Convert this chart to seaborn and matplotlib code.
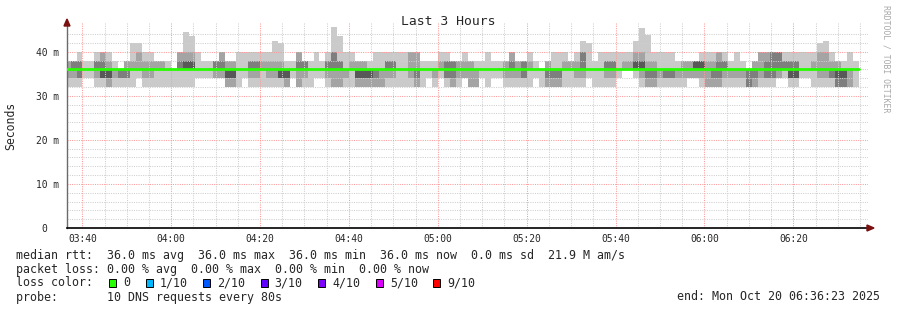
import matplotlib
matplotlib.use("Agg")
import matplotlib.pyplot as plt
import seaborn as sns
import numpy as np
import pandas as pd
from matplotlib.patches import Rectangle, Polygon

sns.set_theme(style="white")
plt.rcParams["font.family"] = ["DejaVu Sans Mono", "DejaVu Sans"]

# ---------------- data (ms, one value per 80 s step, sorted pings) ----------------
ping1 = [32,32,32,34,34,32,32,32,32,32,
         32,32,34,32,32,32,32,32,32,32,
         32,32,34,34,34,34,34,32,32,32,
         34,32,32,32,32,32,32,32,34,32,
         32,32,34,34,32,32,32,32,32,32,
         32,32,32,32,32,32,32,32,32,32,
         32,34,32,34,32,32,32,34,32,32,
         34,32,34,34,32,32,32,32,32,34,
         32,32,32,32,32,32,32,32,34,32,
         32,32,32,34,36,36,34,32,32,32,
         32,32,32,32,32,34,34,32,32,32,
         32,32,32,32,32,32,32,32,32,32,
         34,34,32,32,34,34,32,32,32,32,
         32,32,32,32]
ping2 = [34,34,34,36,36,34,34,32,34,34,
         34,36,36,34,34,36,36,36,36,36,
         36,36,36,36,36,34,34,32,32,36,
         36,34,34,36,34,34,34,32,36,32,
         34,36,36,36,34,32,32,34,36,32,
         32,32,32,32,34,34,36,36,34,32,
         36,36,34,36,34,32,34,34,32,32,
         36,36,36,36,34,34,34,34,36,36,
         36,32,32,32,36,36,34,34,36,36,
         36,34,34,36,36,36,36,34,32,32,
         34,34,34,34,34,34,34,34,32,32,
         32,34,34,34,34,32,32,34,34,34,
         34,36,34,34,36,36,36,34,34,34,
         32,32,32,36]
ping3 = [36,36,34,36,36,36,34,34,36,34,
         34,36,36,36,36,36,36,36,36,36,
         36,36,36,36,36,36,36,34,34,36,
         36,36,36,36,36,36,34,34,36,36,
         36,36,36,36,36,36,36,36,36,34,
         34,34,34,36,36,36,36,36,36,34,
         36,36,36,36,34,34,36,36,36,36,
         36,36,36,36,36,36,36,34,36,36,
         36,34,34,34,36,36,36,36,36,36,
         36,36,36,36,36,36,36,36,34,34,
         36,34,34,36,36,36,36,36,36,34,
         34,36,36,36,36,32,34,36,34,34,
         36,36,34,34,36,36,36,36,36,34,
         32,32,36,36]
ping4 = [36,36,36,36,36,36,34,34,36,36,
         36,36,36,36,36,36,36,36,36,36,
         36,36,36,36,36,36,36,34,34,36,
         36,36,36,36,36,36,34,34,36,36,
         36,36,36,36,36,36,36,36,36,34,
         34,34,36,36,36,36,36,36,36,36,
         36,36,36,36,36,36,36,36,36,36,
         36,36,36,36,36,36,36,36,36,36,
         36,36,36,36,36,36,36,36,36,36,
         36,36,36,36,36,36,36,36,36,36,
         36,36,36,36,36,36,36,36,36,36,
         36,36,36,36,36,36,36,36,36,36,
         36,36,34,34,36,36,36,36,36,36,
         34,34,36,36]
ping7 = [36,36,36,36,36,36,36,36,36,36,
         36,36,36,36,36,36,36,36,36,36,
         38,38,36,36,36,36,36,36,36,36,
         36,36,36,36,36,36,36,36,36,36,
         36,36,36,36,36,36,36,36,36,36,
         36,36,36,36,36,36,36,36,36,36,
         36,36,36,36,36,36,36,36,36,36,
         36,36,36,36,36,36,36,36,36,36,
         36,36,36,36,36,36,36,36,36,36,
         36,36,36,36,36,36,38,38,36,36,
         36,36,36,36,36,36,38,38,36,36,
         36,36,36,36,36,36,36,36,36,36,
         36,36,36,36,36,36,36,36,36,36,
         36,36,36,36]
ping8 = [36,38,38,36,36,38,38,36,36,36,
         36,36,36,36,36,36,36,36,36,38,
         38,38,36,36,36,38,38,36,36,36,
         36,38,38,36,36,36,36,36,36,38,
         38,36,36,36,38,40,38,36,36,36,
         36,36,36,36,38,38,36,36,36,36,
         36,36,36,36,38,38,36,36,36,36,
         36,36,36,36,36,38,36,38,36,36,
         36,36,36,36,36,36,36,40,36,36,
         36,38,38,36,36,36,38,38,36,36,
         36,36,36,36,36,36,38,38,36,36,
         38,38,36,36,36,36,36,36,38,40,
         40,38,38,38,36,36,36,36,36,36,
         36,36,36,36]
ping9 = [38,38,38,36,36,38,40,38,36,36,
         38,38,40,38,38,38,38,36,36,40,
         40,40,36,36,36,38,40,38,38,36,
         36,38,38,38,38,38,38,36,36,40,
         38,36,36,36,38,40,38,36,38,38,
         38,36,36,36,38,38,36,36,40,40,
         36,36,36,38,38,38,38,38,38,36,
         36,36,36,36,38,40,38,38,38,36,
         36,38,36,36,38,38,38,40,36,36,
         36,38,38,36,38,38,40,40,38,38,
         36,36,36,36,38,38,38,38,38,38,
         40,38,36,36,36,36,38,40,40,40,
         40,38,38,38,36,36,38,40,40,38,
         38,36,36,36]
ping10 = [38,38,40,38,38,40,40,40,38,36,
          38,42,42,40,40,38,38,38,36,40,
          44.5,43.5,40,38,38,38,40,38,38,40,
          40,40,40,40,40,42.5,42,38,38,40,
          38,38,40,38,40,45.5,43.5,40,40,38,
          38,38,40,40,40,40,40,40,40,40,
          38,38,38,40,40,38,38,40,38,38,
          38,40,38,38,38,40,38,38,40,38,
          36,38,40,40,40,38,40,42.5,42,38,
          40,40,40,40,40,40,42.4,45.4,43.8,40,
          40,40,40,38,38,38,38,40,40,40,
          40,40,38,40,38,36,38,40,40,40,
          40,40,40,40,40,40,40,42,42.5,40,
          38,38,40,38]
median_ms = [36.0] * len(ping1)

xtick_vals = [220, 240, 260, 280, 300, 320, 340, 360, 380]
xtick_labels = ["03:40", "04:00", "04:20", "04:40", "05:00", "05:20", "05:40", "06:00", "06:20"]
ytick_vals = [0, 10, 20, 30, 40]
ytick_labels = ["0  ", "10 m", "20 m", "30 m", "40 m"]
loss_labels = ["0", "1/10", "2/10", "3/10", "4/10", "5/10", "9/10"]
loss_colors = ["#26ff00", "#00b8ff", "#0059ff", "#5e00ff", "#7e00ff", "#dd00ff", "#ff0000"]

# ---------------- figure ----------------
N = len(ping1)
step_min = 80 / 60
W, H = 897, 310
fig = plt.figure(figsize=(W / 100, H / 100), dpi=100)
ax = fig.add_axes([67 / W, 1 - 228 / H, 801 / W, 206 / H])
x0 = 216.56
x1 = x0 + 801 / 4.444
ax.set_xlim(x0, x1)
ax.set_ylim(0, 206 / 4.4075)

col_end = 394.70
edges = col_end - step_min * (N - np.arange(N + 1))

shades = ["#cacaca", "#a4a4a4", "#7e7e7e", "#585858"]
lows = [ping1, ping2, ping3, ping4]
highs = [ping10, ping9, ping8, ping7]
for lo, hi, c in zip(lows, highs, shades):
    lo_e = np.append(lo, lo[-1])
    hi_e = np.append(hi, hi[-1])
    ax.fill_between(edges, lo_e, hi_e, step="post", color=c, lw=0, zorder=2)

# grid
for xv in np.arange(220, x1, 5):
    major = (xv - 220) % 20 == 0
    ax.axvline(xv, color="#ff9a9a" if major else "#cfcfcf", lw=0.75,
               ls=(0, (1, 1.2)), zorder=2.5)
for yv in np.arange(2, 46, 2):
    major = yv % 10 == 0
    ax.axhline(yv, color="#ff9a9a" if major else "#cfcfcf", lw=0.75,
               ls=(0, (1, 1.2)), zorder=2.5)

# median line
med_df = pd.DataFrame({"t": edges, "ms": np.append(median_ms, median_ms[-1])})
sns.lineplot(data=med_df, x="t", y="ms", drawstyle="steps-post", color="#26ff00",
             lw=2.0, ax=ax, zorder=3, estimator=None)
ax.set_xlabel("")
ax.set_ylabel("")

# axes styling
for s in ["top", "right"]:
    ax.spines[s].set_visible(False)
ax.spines["left"].set_color("#6a6a6a")
ax.spines["left"].set_linewidth(1.0)
ax.spines["bottom"].set_color("black")
ax.spines["bottom"].set_linewidth(1.2)
ax.set_xticks(xtick_vals)
ax.set_xticklabels(xtick_labels, fontsize=6.9)
ax.set_yticks(ytick_vals)
ax.set_yticklabels(ytick_labels, fontsize=6.9)
ax.tick_params(axis="x", length=0, pad=4.0)
ax.tick_params(axis="y", length=0, pad=5.8)
ax.grid(False)


def fx(px):
    return px / W


def fy(py):
    return 1 - py / H


# arrows
fig.patches.append(Polygon([[fx(64), fy(26)], [fx(70), fy(26)], [fx(67), fy(19)]],
                           closed=True, color="#7a1010", transform=fig.transFigure))
fig.patches.append(Polygon([[fx(867), fy(225)], [fx(867), fy(231)], [fx(874), fy(228)]],
                           closed=True, color="#7a1010", transform=fig.transFigure))

# texts
fig.text(fx(448), fy(25), "Last 3 Hours", ha="center", va="baseline", fontsize=9.4)
fig.text(fx(11), fy(126), "Seconds", rotation=90, ha="center", va="center", fontsize=8.3)
fig.text(fx(886), fy(5), "RRDTOOL / TOBI OETIKER", rotation=-90, ha="center", va="top",
         fontsize=5.9, color="#a8a8a8")

fs = 8.35
fig.text(fx(16), fy(258.5),
         "median rtt:  36.0 ms avg  36.0 ms max  36.0 ms min  36.0 ms now  0.0 ms sd  21.9 M am/s",
         ha="left", va="baseline", fontsize=fs)
fig.text(fx(16), fy(272.5),
         "packet loss: 0.00 % avg  0.00 % max  0.00 % min  0.00 % now",
         ha="left", va="baseline", fontsize=fs)
fig.text(fx(16), fy(286.5), "loss color:", ha="left", va="baseline", fontsize=fs)
box_x = [109, 145.7, 203, 260.7, 318.3, 376, 433.3]
for bx, lab, col in zip(box_x, loss_labels, loss_colors):
    fig.patches.append(Rectangle((fx(bx), fy(286.5)), 7 / W, 7.5 / H, facecolor=col,
                                 edgecolor="black", lw=0.7, transform=fig.transFigure))
    fig.text(fx(bx + 14), fy(286.5), lab, ha="left", va="baseline", fontsize=fs)
fig.text(fx(16), fy(300.5), "probe:       10 DNS requests every 80s",
         ha="left", va="baseline", fontsize=fs)
fig.text(fx(880), fy(300.5), "end: Mon Oct 20 06:36:23 2025", ha="right",
         va="baseline", fontsize=fs)

fig.savefig("out.png", dpi=100, facecolor="white")
